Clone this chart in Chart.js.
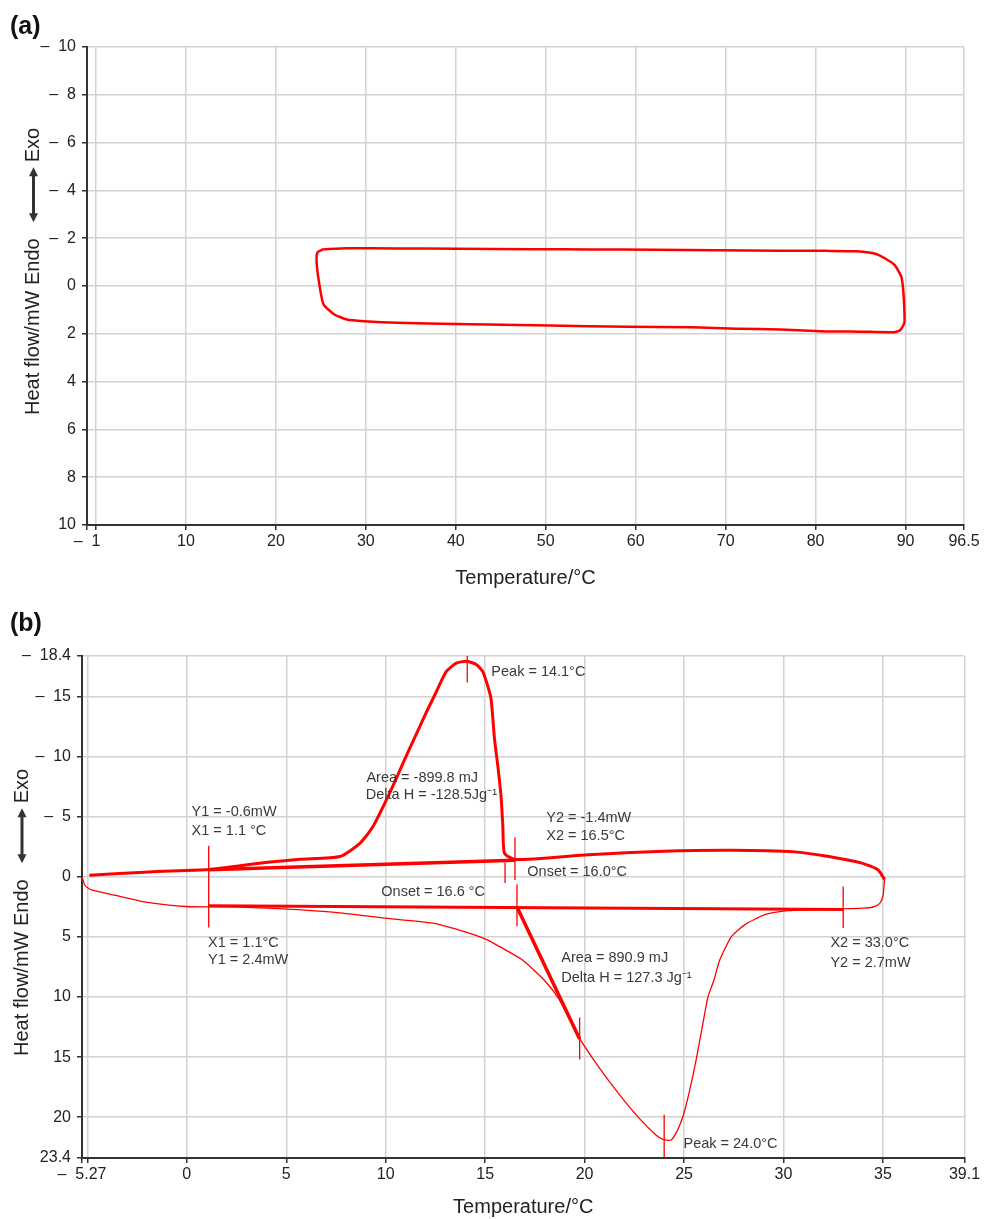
<!DOCTYPE html>
<html>
<head>
<meta charset="utf-8">
<title>DSC curves</title>
<script src="https://cdn.jsdelivr.net/npm/chart.js@4.4.1/dist/chart.umd.min.js"></script>
<style>
  body { margin: 0; background: #fff; }
  .box { position: absolute; left: 0; width: 986px; }
  .tag { position: absolute; left: 10px; font: bold 25px/25px "Liberation Sans", Arial, sans-serif; color: #111; }
</style>
</head>
<body>
<div class="box" style="top:0;height:600px"><canvas id="chart-a"></canvas></div>
<div class="box" style="top:600px;height:619px"><canvas id="chart-b"></canvas></div>
<div class="tag" style="top:13px">(a)</div>
<div class="tag" style="top:610px">(b)</div>
<script>
var FONT = '"Liberation Sans", Arial, sans-serif';
Chart.defaults.font.family = FONT;
Chart.defaults.color = '#222';

// (a) empty run: one heating/cooling loop
var loopTemp = [25.3, 27.9, 33.5, 40.0, 48.5, 55.0, 62.0, 69.0, 76.0, 81.2, 84.5, 86.8, 88.7, 89.5, 89.7, 89.85, 89.87, 89.4, 88.7, 85.0, 81.2, 76.1, 71.2, 66.3, 59.2, 50.4, 40.1, 33.5, 29.8, 27.9, 26.5, 25.3, 24.86, 24.53, 24.62, 25.3];
var loopHeat = [-1.54, -1.58, -1.57, -1.56, -1.54, -1.53, -1.52, -1.50, -1.48, -1.47, -1.45, -1.33, -0.91, -0.42, 0, 0.84, 1.54, 1.85, 1.93, 1.91, 1.90, 1.82, 1.79, 1.73, 1.71, 1.65, 1.59, 1.54, 1.47, 1.40, 1.19, 0.77, 0, -0.98, -1.40, -1.54];
var ticksTempA = [-1, 0, 10, 20, 30, 40, 50, 60, 70, 80, 90, 96.5];
var ticksHeatA = [-10, -8, -6, -4, -2, 0, 2, 4, 6, 8, 10];

// (b) sample run
var heatTemp = [-5.27, -5.12, -4.83, -3.57, -2.06, -0.05, 2.63, 4.82, 7.33, 9.85, 12.37, 14.04, 15.05, 15.72, 16.86, 18.03, 18.72, 19.73, 20.74, 21.74, 22.75, 23.6, 23.93, 24.35, 24.68, 24.97, 25.27, 25.6, 25.94, 26.2, 26.5, 26.8, 27.39, 28.06, 29.06, 30.23, 32.0, 34.0, 34.5, 34.83, 35.0, 35.05, 35.08];
var heatFlow = [0, 0.7, 1.06, 1.54, 2.09, 2.46, 2.51, 2.65, 2.93, 3.41, 3.85, 4.6, 5.2, 5.8, 6.9, 8.7, 10.2, 13.4, 15.9, 18.1, 20.1, 21.5, 21.84, 21.9, 21.06, 19.8, 17.85, 15.3, 12.26, 10.0, 8.6, 6.9, 4.94, 3.97, 3.14, 2.8, 2.7, 2.6, 2.5, 2.22, 1.6, 0.78, 0.22];
var coolTemp = [35.08, 34.75, 33.9, 32.2, 30.57, 27.39, 23.96, 20.2, 16.52, 15.97, 15.89, 15.8, 15.64, 15.47, 15.3, 15.13, 14.88, 14.55, 14.05, 13.55, 13.04, 12.54, 12.04, 11.04, 10.2, 9.36, 8.7, 7.7, 5.69, 3.96, 2.5, 1.1, -1.9, -4.9];
var coolFlow = [0.22, -0.6, -1.17, -1.72, -2.09, -2.22, -2.14, -1.86, -1.45, -1.98, -4.2, -6.7, -9.2, -11.5, -14.8, -15.9, -17.1, -17.7, -17.96, -17.8, -17.1, -15.4, -13.7, -10.1, -7.0, -4.2, -2.8, -1.7, -1.48, -1.2, -0.9, -0.62, -0.42, -0.14];

// integration baselines and onset tangent
var upperBaseTemp = [1.1, 16.5];
var upperBaseFlow = [-0.6, -1.4];
var lowerBaseTemp = [1.1, 33.0];
var lowerBaseFlow = [2.4, 2.7];
var onsetTemp = [16.6, 19.75];
var onsetFlow = [2.5, 13.5];

// short vertical cursor marks
var markTemp = [1.1, 16.0, 16.5, 16.6, 19.75, 33.0, 14.1, 24.0];
var markFrom = [-2.6, -1.2, -3.3, 0.6, 11.7, 0.8, -18.4, 19.8];
var markTo = [4.2, 0.5, 0.25, 4.1, 15.2, 4.25, -16.2, 23.4];

var noteText = ['Peak = 14.1°C', 'Area = -899.8 mJ', 'Delta H = -128.5Jg\u207B\u00B9', 'Y1 = -0.6mW', 'X1 = 1.1 °C',
  'Y2 = -1.4mW', 'X2 = 16.5°C', 'Onset = 16.0°C', 'Onset = 16.6 °C', 'X1 = 1.1°C', 'Y1 = 2.4mW',
  'Area = 890.9 mJ', 'Delta H = 127.3 Jg\u207B\u00B9', 'X2 = 33.0°C', 'Y2 = 2.7mW', 'Peak = 24.0°C'];
var noteTemp = [15.31, 9.03, 9.0, 0.24, 0.24, 18.07, 18.07, 17.12, 9.78, 1.07, 1.07, 18.83, 18.83, 32.36, 32.36, 24.97];
var noteFlow = [-17.06, -8.28, -6.83, -5.44, -3.83, -4.89, -3.42, -0.39, 1.22, 5.47, 6.92, 6.78, 8.44, 5.53, 7.19, 22.2];

var ticksTempB = [-5.27, -5, 0, 5, 10, 15, 20, 25, 30, 35, 39.1];
var ticksHeatB = [-18.4, -15, -10, -5, 0, 5, 10, 15, 20, 23.4];

function pts(xs, ys) {
  return xs.map(function(x, i) { return {x: x, y: ys[i]}; });
}

function line(xs, ys, w, tension) {
  return {
    data: pts(xs, ys),
    showLine: true,
    borderColor: '#ff0000',
    borderWidth: w,
    pointRadius: 0,
    fill: false,
    tension: tension || 0
  };
}

function tickText(v) {
  return v < 0 ? '\u2013  ' + Math.abs(v) : String(v);
}

function gridOpts() {
  return { color: '#d2d2d2', lineWidth: 1.5, tickColor: '#333', tickLength: 5, tickWidth: 1.5 };
}

function makeScales(s) {
  return {
    x: {
      type: 'linear', min: s.xMin, max: s.xMax,
      afterBuildTicks: function(sc) { sc.ticks = s.xTicks.map(function(v) { return {value: v}; }); },
      afterFit: function(sc) { sc.height = s.xHeight; },
      ticks: {
        autoSkip: false, maxRotation: 0, padding: 2, font: {size: 16}, color: '#222',
        callback: function(v) { return s.xHide.indexOf(v) >= 0 ? '' : tickText(v); }
      },
      grid: gridOpts(),
      border: { color: '#333', width: 2 },
      title: { display: true, text: 'Temperature/°C', font: {size: 20}, color: '#222', padding: {top: 0, bottom: s.titlePad} }
    },
    y: {
      type: 'linear', min: s.yMin, max: s.yMax, reverse: true,
      afterBuildTicks: function(sc) { sc.ticks = s.yTicks.map(function(v) { return {value: v}; }); },
      afterFit: function(sc) { sc.width = s.yWidth; },
      ticks: { autoSkip: false, padding: 6, font: {size: 16}, color: '#222', callback: tickText },
      grid: gridOpts(),
      border: { color: '#333', width: 2 }
    }
  };
}

// rotated y title with a double arrow between Endo and Exo
var yTitlePlugin = {
  id: 'yTitle',
  afterDraw: function(chart, args, o) {
    var ctx = chart.ctx;
    ctx.save();
    ctx.translate(o.x, o.bottom);
    ctx.rotate(-Math.PI / 2);
    ctx.font = '20px ' + FONT;
    ctx.fillStyle = '#222';
    ctx.textBaseline = 'middle';
    ctx.textAlign = 'left';
    var main = 'Heat flow/mW Endo';
    ctx.fillText(main, 0, 0);
    var w = ctx.measureText(main).width;
    var a0 = w + 16, a1 = w + 71;
    ctx.strokeStyle = '#333';
    ctx.fillStyle = '#333';
    ctx.lineWidth = 3;
    ctx.beginPath(); ctx.moveTo(a0 + 6, 0); ctx.lineTo(a1 - 6, 0); ctx.stroke();
    ctx.beginPath(); ctx.moveTo(a0, 0); ctx.lineTo(a0 + 9, -4.5); ctx.lineTo(a0 + 9, 4.5); ctx.closePath(); ctx.fill();
    ctx.beginPath(); ctx.moveTo(a1, 0); ctx.lineTo(a1 - 9, -4.5); ctx.lineTo(a1 - 9, 4.5); ctx.closePath(); ctx.fill();
    ctx.fillStyle = '#222';
    ctx.fillText('Exo', a1 + 5, 0);
    ctx.restore();
  }
};

var notesPlugin = {
  id: 'notes',
  afterDatasetsDraw: function(chart) {
    var ctx = chart.ctx, xs = chart.scales.x, ys = chart.scales.y;
    ctx.save();
    ctx.font = '14.5px ' + FONT;
    ctx.fillStyle = '#3a3a3a';
    ctx.textBaseline = 'middle';
    ctx.textAlign = 'left';
    noteText.forEach(function(t, i) {
      ctx.fillText(t, xs.getPixelForValue(noteTemp[i]), ys.getPixelForValue(noteFlow[i]));
    });
    ctx.restore();
  }
};

new Chart(document.getElementById('chart-a').getContext('2d'), {
  type: 'scatter',
  data: { datasets: [line(loopTemp, loopHeat, 2.5, 0.2)] },
  options: {
    responsive: true,
    maintainAspectRatio: false,
    animation: false,
    events: [],
    layout: { padding: {left: 0, right: 22, top: 47, bottom: 8} },
    plugins: { legend: {display: false}, tooltip: {enabled: false}, yTitle: {x: 33.5, bottom: 415} },
    scales: makeScales({
      xMin: -1, xMax: 96.5, xTicks: ticksTempA, xHide: [0], xHeight: 67, titlePad: 2,
      yMin: -10, yMax: 10, yTicks: ticksHeatA, yWidth: 87
    })
  },
  plugins: [yTitlePlugin]
});

var datasetsB = [
  line(heatTemp, heatFlow, 1.3, 0.2),
  line(coolTemp, coolFlow, 3, 0.2),
  line(upperBaseTemp, upperBaseFlow, 3.5),
  line(lowerBaseTemp, lowerBaseFlow, 3),
  line(onsetTemp, onsetFlow, 3.5)
].concat(markTemp.map(function(t, i) { return line([t, t], [markFrom[i], markTo[i]], 1.3); }));

new Chart(document.getElementById('chart-b').getContext('2d'), {
  type: 'scatter',
  data: { datasets: datasetsB },
  options: {
    responsive: true,
    maintainAspectRatio: false,
    animation: false,
    events: [],
    layout: { padding: {left: 0, right: 21.5, top: 56, bottom: 0} },
    plugins: { legend: {display: false}, tooltip: {enabled: false}, yTitle: {x: 22, bottom: 456} },
    scales: makeScales({
      xMin: -5.27, xMax: 39.1, xTicks: ticksTempB, xHide: [-5], xHeight: 61, titlePad: 0,
      yMin: -18.4, yMax: 23.4, yTicks: ticksHeatB, yWidth: 82
    })
  },
  plugins: [yTitlePlugin, notesPlugin]
});
</script>
</body>
</html>
